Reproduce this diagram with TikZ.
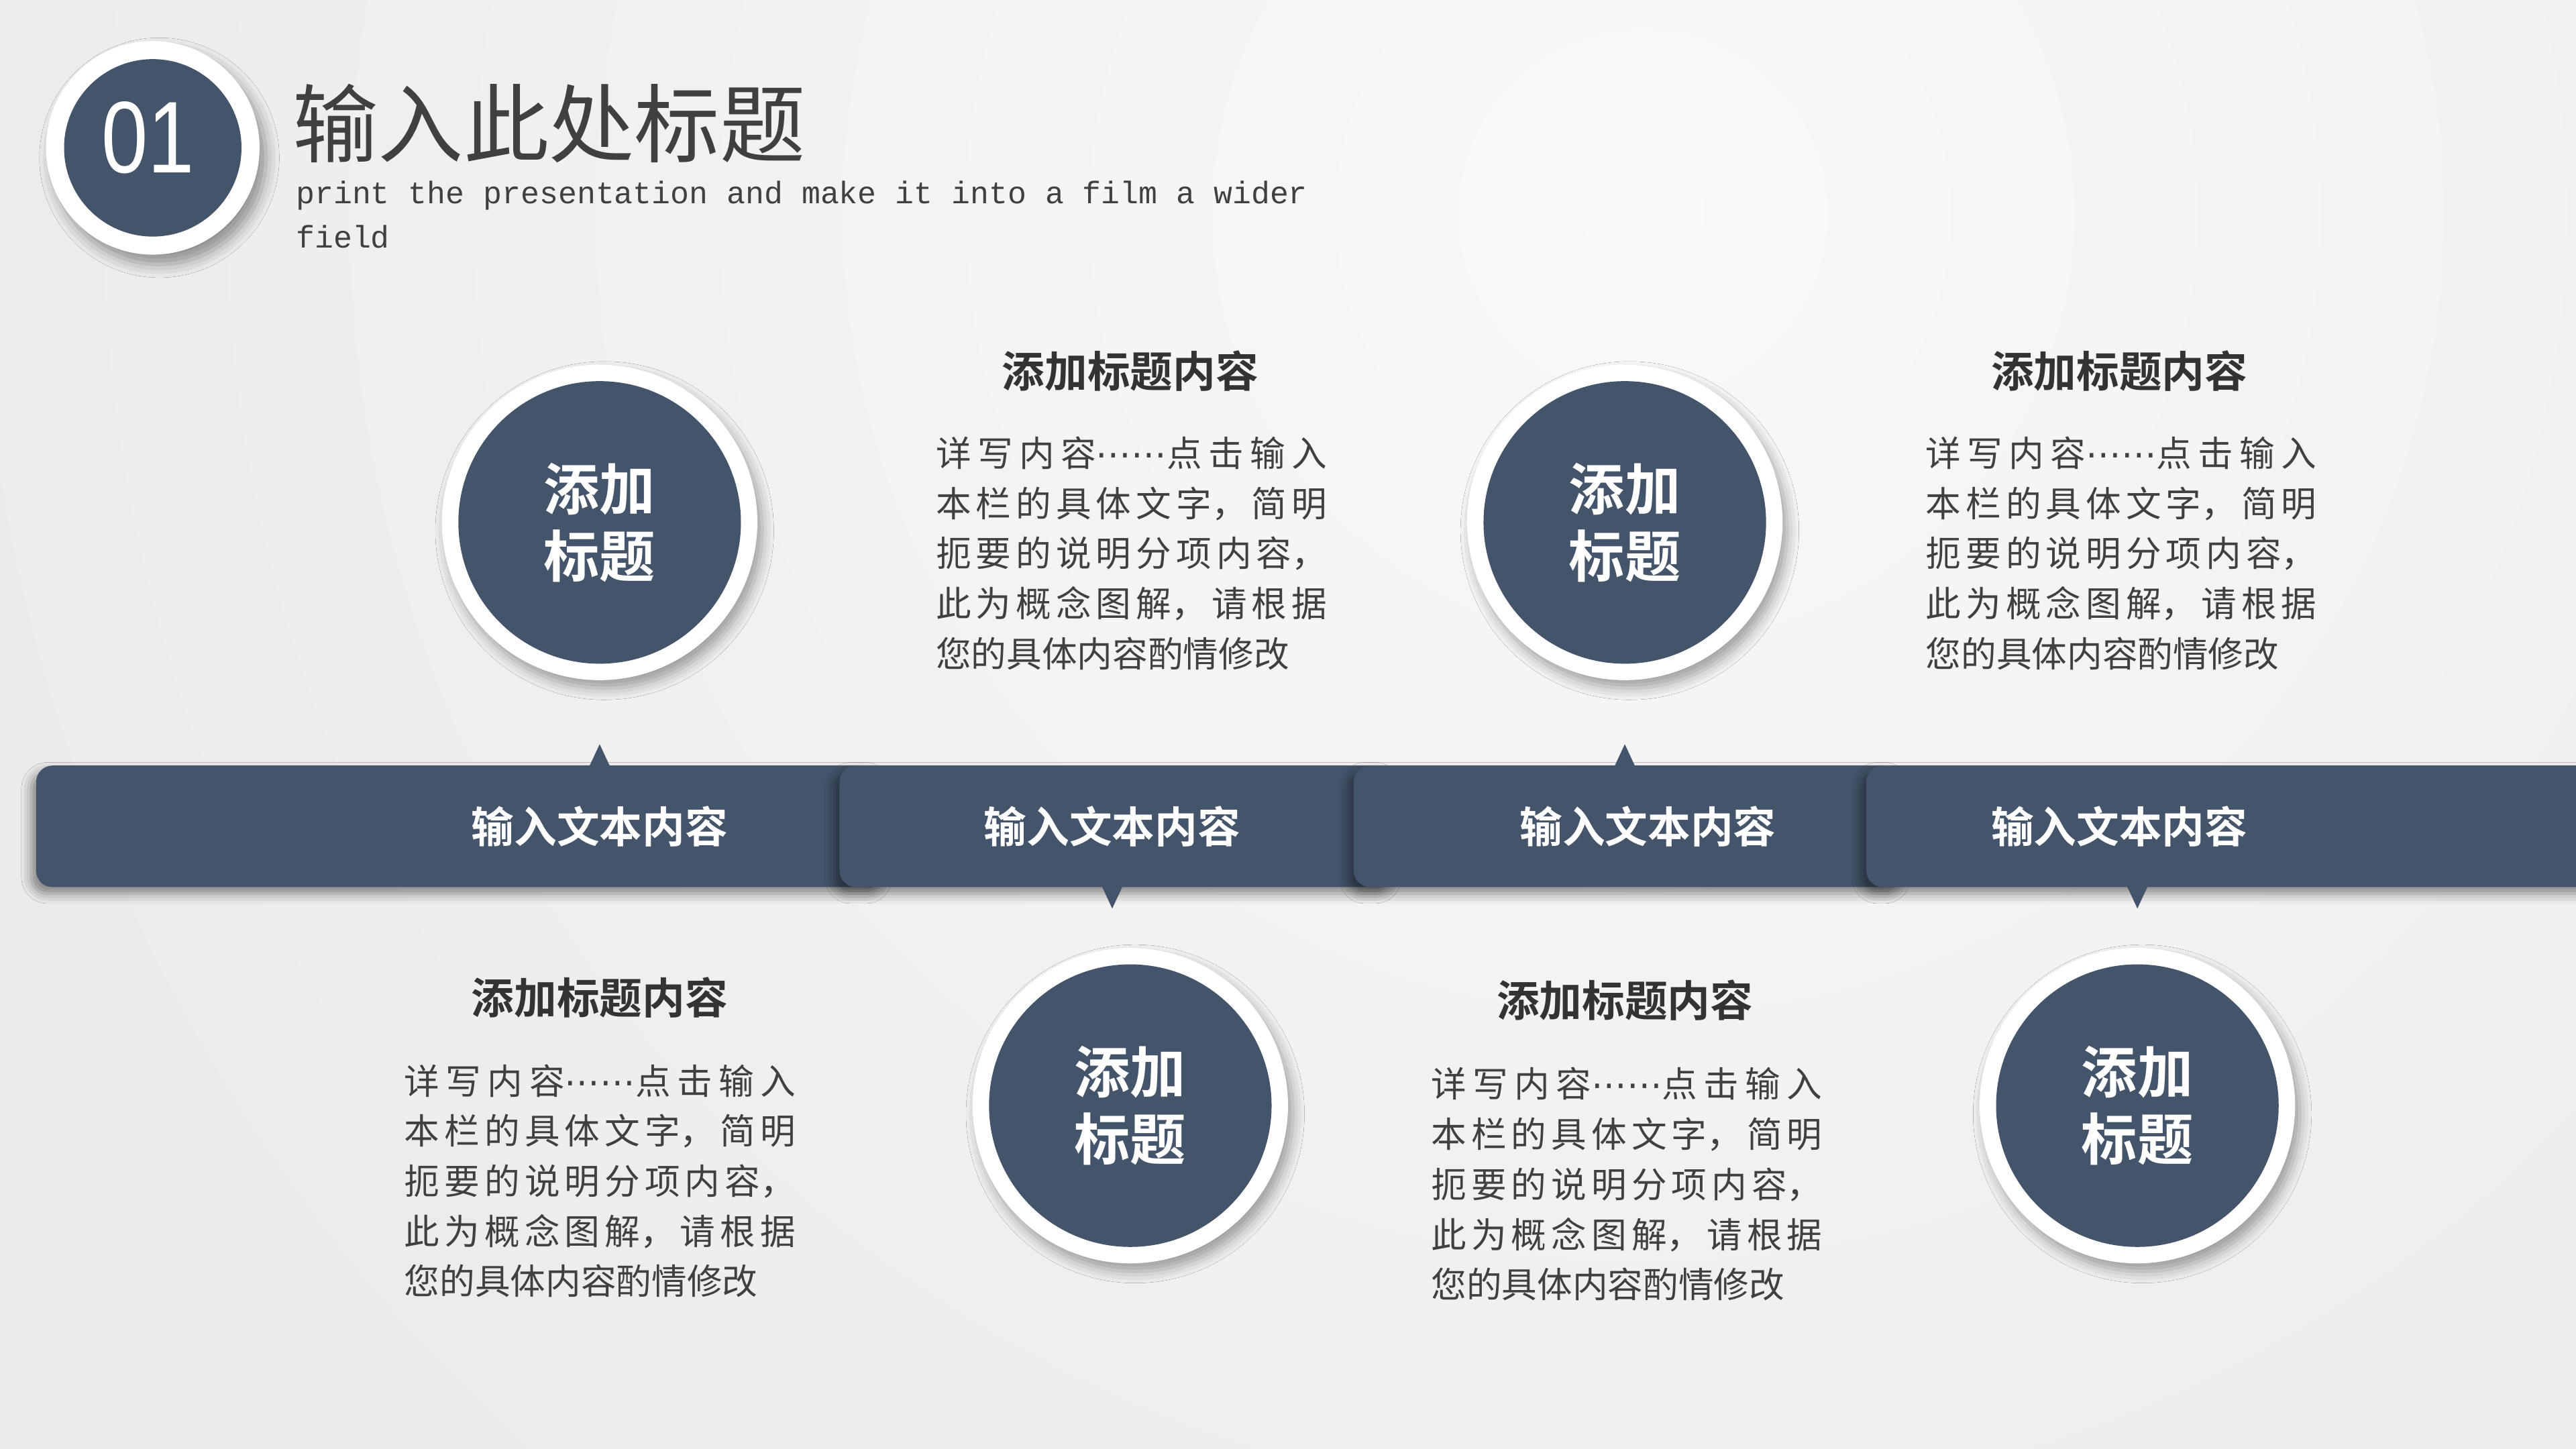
\documentclass[tikz,border=0pt]{standalone}
\usepackage{fontspec}
\setmainfont{Liberation Sans}
\newfontfamily\cjk{Noto Sans CJK SC}[BoldFont={Noto Sans CJK SC Bold}]
\newfontfamily\monofont{Liberation Mono}
\newfontfamily\symfont{DejaVu Sans}
\usetikzlibrary{positioning,shadows.blur}
\definecolor{slate}{HTML}{44546A}
\definecolor{inkgray}{HTML}{404040}
\definecolor{headgray}{HTML}{333333}
\definecolor{bggray}{HTML}{EBEBEB}
\XeTeXlinebreaklocale "zh"
\XeTeXlinebreakskip=0pt plus 3pt
\newcommand{\dotsfw}{\makebox[1em]{\symfont ⋯}\makebox[1em]{\symfont ⋯}}

\begin{document}
\begin{tikzpicture}[x=1pt,y=-1pt,
  ring/.style={circle,fill=white,minimum size=192pt,inner sep=0pt,
    blur shadow={shadow xshift=3pt,shadow yshift=-5pt,shadow blur radius=7pt,shadow opacity=35}},
  disc/.style={circle,fill=slate,minimum size=172pt,inner sep=0pt,text=white,align=center,
    font=\cjk\bfseries\fontsize{34}{41}\selectfont},
  segment/.style={fill=slate,rounded corners=10pt,
    blur shadow={shadow xshift=-3pt,shadow yshift=-4pt,shadow blur radius=6pt,shadow opacity=45}},
  bandtext/.style={text=white,inner sep=0pt,font=\cjk\bfseries\fontsize{26}{26}\selectfont},
  blocktitle/.style={text=headgray,inner sep=0pt,font=\cjk\bfseries\fontsize{26}{26}\selectfont},
  blockbody/.style={text=inkgray,inner sep=0pt,anchor=base west,text width=238pt,align=justify,
    font=\cjk\fontsize{21.5}{30.5}\selectfont},
  subline/.style={text=inkgray,inner sep=0pt,anchor=base west,font=\monofont\fontsize{19}{27}\selectfont}
]
\useasboundingbox (0,0) rectangle (1568,882);

% background
\fill[bggray] (0,0) rectangle (1568,882);
\begin{scope}
  \clip (0,0) rectangle (1568,882);
  \shade[inner color=white!70!bggray,outer color=bggray] (1000,130) circle (1050);
\end{scope}

% heading
\node[circle,fill=white,minimum size=130pt,inner sep=0pt,
  blur shadow={shadow xshift=4pt,shadow yshift=-6pt,shadow blur radius=8pt,shadow opacity=40}] (badge) at (93,90) {};
\node[circle,fill=slate,minimum size=108pt,inner sep=0pt] (badgein) at (badge) {};
\node[text=white,inner sep=0pt,xscale=0.82,transform shape,font=\fontsize{62}{62}\selectfont] (num) at (90,84) {01};
\node[text=inkgray,anchor=west,inner sep=0pt,font=\cjk\fontsize{52}{52}\selectfont] (title) at (178,75) {输入此处标题};
\node[subline] (sub1) at (180,124) {print the presentation and make it into a film a wider};
\node[subline] (sub2) at ([yshift=-27pt]sub1.base west) {field};

% band
\fill[segment] (22,466) rectangle (540,540);
\fill[slate] (358,468) -- (365,453) -- (372,468) -- cycle;
\fill[segment] (511,466) rectangle (850,540);
\fill[slate] (670,538) -- (677,553) -- (684,538) -- cycle;
\fill[segment] (824,466) rectangle (1160,540);
\fill[slate] (982,468) -- (989,453) -- (996,468) -- cycle;
\fill[segment] (1136,466) rectangle (1610,540);
\fill[slate] (1294,538) -- (1301,553) -- (1308,538) -- cycle;

\node[bandtext] (band1) at (365,503) {输入文本内容};
\node[bandtext] (band2) at (677,503) {输入文本内容};
\node[bandtext] (band3) at (1003,503) {输入文本内容};
\node[bandtext] (band4) at (1290,503) {输入文本内容};

% circles
\node[ring] (ring1) at (365,318) {};
\node[disc] (step1) at (ring1) {添加\\标题};
\node[ring] (ring2) at (688,673) {};
\node[disc] (step2) at (ring2) {添加\\标题};
\node[ring] (ring3) at (989,318) {};
\node[disc] (step3) at (ring3) {添加\\标题};
\node[ring] (ring4) at (1301,673) {};
\node[disc] (step4) at (ring4) {添加\\标题};

% text blocks
\node[blocktitle] (head1) at (365,607) {添加标题内容};
\node[blockbody] (body1) at (246,666) {详写内容\dotsfw 点击输入\linebreak 本栏的具体文字，简明\linebreak 扼要的说明分项内容，\linebreak 此为概念图解，请根据\linebreak 您的具体内容酌情修改};
\node[blocktitle] (head2) at (688,226) {添加标题内容};
\node[blockbody] (body2) at (569.5,284) {详写内容\dotsfw 点击输入\linebreak 本栏的具体文字，简明\linebreak 扼要的说明分项内容，\linebreak 此为概念图解，请根据\linebreak 您的具体内容酌情修改};
\node[blocktitle] (head3) at (989,609) {添加标题内容};
\node[blockbody] (body3) at (871,668) {详写内容\dotsfw 点击输入\linebreak 本栏的具体文字，简明\linebreak 扼要的说明分项内容，\linebreak 此为概念图解，请根据\linebreak 您的具体内容酌情修改};
\node[blocktitle] (head4) at (1290,226) {添加标题内容};
\node[blockbody] (body4) at (1172,284) {详写内容\dotsfw 点击输入\linebreak 本栏的具体文字，简明\linebreak 扼要的说明分项内容，\linebreak 此为概念图解，请根据\linebreak 您的具体内容酌情修改};

\end{tikzpicture}
\end{document}
